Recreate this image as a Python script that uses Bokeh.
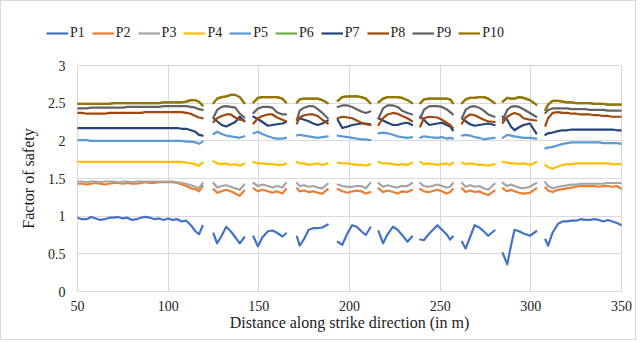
import math
from bokeh.plotting import figure
from bokeh.layouts import column
from bokeh.models import ColumnDataSource, Legend, LegendItem, FixedTicker
from bokeh.embed import file_html
from bokeh.resources import INLINE

# ---------------- data ----------------
x_segments = [
    [50, 52.5, 55, 57.5, 60, 62.5, 65, 67.5, 70, 72.5, 75, 77.5, 80, 82.5, 85, 87.5,
     90, 92.5, 95, 97.5, 100, 102.5, 105, 107.5, 110, 112.5, 115, 117, 119],
    [125, 127, 129.5, 132, 134.5, 137, 139.5, 142],
    [147, 149.5, 152, 155, 157.5, 160, 163, 165],
    [171, 172.5, 175, 177.5, 180, 182.5, 185, 188],
    [193.5, 196, 199, 201.5, 204, 206.5, 209, 211.5],
    [216, 218.5, 221, 224, 226.5, 229, 232, 234.5],
    [239, 241, 244, 248.5, 251, 253.5, 255.5, 257],
    [262, 264, 266.5, 269, 271.5, 274, 276.5, 280],
    [284.5, 287, 289, 291, 293.5, 296, 299.5, 303],
    [308, 309.5, 312, 315, 317.5, 320, 322.5, 325, 327.5, 330, 332.5, 335, 337.5,
     340, 342.5, 345, 347.5, 350],
]

P1 = [
    [0.98, 0.96, 0.96, 0.99, 0.97, 0.95, 0.96, 0.98, 0.98, 0.99, 0.97, 0.98, 0.95, 0.96, 0.98,
     0.99, 0.98, 0.96, 0.97, 0.95, 0.97, 0.95, 0.96, 0.93, 0.94, 0.88, 0.80, 0.76, 0.87],
    [0.77, 0.64, 0.74, 0.86, 0.80, 0.72, 0.64, 0.72],
    [0.73, 0.60, 0.72, 0.80, 0.81, 0.78, 0.73, 0.77],
    [0.73, 0.61, 0.70, 0.82, 0.84, 0.84, 0.85, 0.89],
    [0.66, 0.62, 0.78, 0.88, 0.86, 0.80, 0.75, 0.85],
    [0.80, 0.64, 0.76, 0.86, 0.82, 0.75, 0.66, 0.73],
    [0.69, 0.68, 0.77, 0.88, 0.82, 0.76, 0.69, 0.73],
    [0.66, 0.57, 0.72, 0.88, 0.85, 0.80, 0.74, 0.81],
    [0.51, 0.36, 0.60, 0.82, 0.80, 0.77, 0.74, 0.80],
    [0.69, 0.61, 0.78, 0.90, 0.93, 0.93, 0.94, 0.94, 0.96, 0.95, 0.95, 0.96, 0.95, 0.93,
     0.95, 0.93, 0.91, 0.88],
]
P2 = [
    [1.43, 1.43, 1.42, 1.43, 1.44, 1.43, 1.42, 1.43, 1.44, 1.44, 1.43, 1.44, 1.43, 1.43, 1.44,
     1.45, 1.44, 1.44, 1.45, 1.45, 1.45, 1.45, 1.44, 1.42, 1.40, 1.37, 1.36, 1.33, 1.40],
    [1.36, 1.31, 1.33, 1.35, 1.33, 1.30, 1.27, 1.34],
    [1.37, 1.33, 1.35, 1.33, 1.31, 1.33, 1.30, 1.36],
    [1.37, 1.33, 1.34, 1.32, 1.33, 1.31, 1.30, 1.36],
    [1.36, 1.33, 1.31, 1.33, 1.34, 1.33, 1.30, 1.32],
    [1.37, 1.32, 1.34, 1.32, 1.30, 1.33, 1.32, 1.35],
    [1.36, 1.33, 1.32, 1.35, 1.33, 1.30, 1.32, 1.36],
    [1.37, 1.32, 1.34, 1.32, 1.33, 1.30, 1.28, 1.34],
    [1.37, 1.33, 1.35, 1.33, 1.31, 1.30, 1.31, 1.37],
    [1.38, 1.34, 1.32, 1.35, 1.36, 1.37, 1.38, 1.39, 1.40, 1.40, 1.40, 1.40, 1.39, 1.40,
     1.40, 1.39, 1.40, 1.36],
]
P3 = [
    [1.46, 1.46, 1.45, 1.46, 1.46, 1.45, 1.46, 1.46, 1.46, 1.45, 1.46, 1.46, 1.45, 1.46, 1.46,
     1.46, 1.46, 1.46, 1.46, 1.46, 1.46, 1.46, 1.45, 1.44, 1.43, 1.41, 1.39, 1.37, 1.44],
    [1.44, 1.38, 1.40, 1.41, 1.39, 1.37, 1.35, 1.42],
    [1.44, 1.40, 1.42, 1.40, 1.38, 1.40, 1.38, 1.44],
    [1.44, 1.40, 1.41, 1.39, 1.40, 1.38, 1.37, 1.43],
    [1.42, 1.40, 1.39, 1.39, 1.40, 1.40, 1.37, 1.44],
    [1.44, 1.39, 1.41, 1.39, 1.38, 1.40, 1.40, 1.44],
    [1.44, 1.40, 1.39, 1.42, 1.40, 1.38, 1.39, 1.44],
    [1.44, 1.39, 1.41, 1.39, 1.40, 1.37, 1.35, 1.43],
    [1.44, 1.40, 1.42, 1.40, 1.38, 1.37, 1.39, 1.44],
    [1.45, 1.40, 1.37, 1.39, 1.40, 1.41, 1.42, 1.42, 1.43, 1.43, 1.43, 1.43, 1.43, 1.43,
     1.44, 1.44, 1.44, 1.44],
]
P4 = [
    [1.72, 1.72, 1.72, 1.72, 1.72, 1.72, 1.72, 1.72, 1.72, 1.72, 1.72, 1.72, 1.72, 1.72, 1.72,
     1.72, 1.72, 1.72, 1.72, 1.72, 1.72, 1.72, 1.72, 1.72, 1.71, 1.70, 1.69, 1.67, 1.71],
    [1.73, 1.70, 1.69, 1.70, 1.68, 1.69, 1.67, 1.70],
    [1.72, 1.70, 1.70, 1.69, 1.69, 1.68, 1.68, 1.70],
    [1.72, 1.70, 1.70, 1.68, 1.69, 1.70, 1.68, 1.70],
    [1.71, 1.70, 1.70, 1.69, 1.68, 1.68, 1.67, 1.69],
    [1.72, 1.70, 1.70, 1.69, 1.68, 1.69, 1.68, 1.71],
    [1.72, 1.69, 1.70, 1.68, 1.69, 1.70, 1.68, 1.71],
    [1.71, 1.69, 1.70, 1.69, 1.68, 1.68, 1.67, 1.69],
    [1.72, 1.71, 1.70, 1.70, 1.69, 1.70, 1.68, 1.72],
    [1.68, 1.65, 1.63, 1.66, 1.68, 1.69, 1.69, 1.70, 1.70, 1.70, 1.70, 1.70, 1.70, 1.70,
     1.70, 1.69, 1.69, 1.69],
]
P5 = [
    [2.01, 2.01, 2.01, 2.00, 2.00, 2.00, 2.00, 2.00, 2.00, 2.00, 2.00, 2.00, 2.00, 2.00, 2.00,
     2.00, 2.00, 2.00, 2.00, 2.00, 2.00, 2.00, 2.00, 2.00, 1.99, 1.99, 1.98, 1.96, 1.99],
    [2.09, 2.12, 2.09, 2.07, 2.06, 2.05, 2.04, 2.06],
    [2.10, 2.12, 2.09, 2.06, 2.04, 2.03, 2.03, 2.04],
    [2.07, 2.08, 2.07, 2.06, 2.05, 2.04, 2.05, 2.06],
    [2.07, 2.06, 2.05, 2.04, 2.03, 2.02, 2.02, 2.01],
    [2.10, 2.11, 2.10, 2.08, 2.06, 2.05, 2.04, 2.05],
    [2.04, 2.06, 2.05, 2.04, 2.05, 2.03, 2.04, 2.03],
    [2.07, 2.08, 2.07, 2.05, 2.04, 2.02, 2.03, 2.04],
    [2.04, 2.08, 2.07, 2.06, 2.05, 2.04, 2.04, 2.03],
    [1.90, 1.91, 1.92, 1.94, 1.96, 1.97, 1.98, 1.98, 1.98, 1.98, 1.98, 1.98, 1.98, 1.97,
     1.97, 1.97, 1.97, 1.96],
]
P7 = [
    [2.17, 2.17, 2.17, 2.17, 2.17, 2.17, 2.17, 2.17, 2.17, 2.17, 2.17, 2.17, 2.17, 2.17, 2.17,
     2.17, 2.17, 2.17, 2.17, 2.17, 2.17, 2.17, 2.17, 2.16, 2.16, 2.14, 2.12, 2.08, 2.07],
    [2.30, 2.26, 2.21, 2.19, 2.22, 2.25, 2.32, 2.26],
    [2.32, 2.29, 2.25, 2.20, 2.21, 2.22, 2.23, 2.25],
    [2.28, 2.30, 2.28, 2.26, 2.23, 2.21, 2.23, 2.27],
    [2.28, 2.17, 2.19, 2.21, 2.22, 2.23, 2.23, 2.22],
    [2.30, 2.27, 2.24, 2.21, 2.21, 2.23, 2.24, 2.21],
    [2.32, 2.28, 2.21, 2.23, 2.24, 2.21, 2.19, 2.14],
    [2.30, 2.26, 2.22, 2.20, 2.21, 2.22, 2.23, 2.21],
    [2.32, 2.28, 2.19, 2.14, 2.18, 2.21, 2.23, 2.10],
    [2.08, 2.10, 2.11, 2.13, 2.14, 2.14, 2.15, 2.15, 2.15, 2.15, 2.15, 2.15, 2.15, 2.15,
     2.15, 2.15, 2.14, 2.14],
]
P8 = [
    [2.37, 2.37, 2.36, 2.36, 2.36, 2.36, 2.36, 2.37, 2.37, 2.37, 2.37, 2.37, 2.37, 2.37, 2.37,
     2.38, 2.38, 2.38, 2.38, 2.38, 2.38, 2.38, 2.38, 2.38, 2.37, 2.36, 2.33, 2.31, 2.30],
    [2.25, 2.30, 2.33, 2.35, 2.35, 2.31, 2.28, 2.27],
    [2.23, 2.30, 2.33, 2.35, 2.35, 2.31, 2.28, 2.26],
    [2.23, 2.31, 2.34, 2.35, 2.35, 2.33, 2.28, 2.23],
    [2.30, 2.32, 2.31, 2.30, 2.27, 2.24, 2.22, 2.21],
    [2.21, 2.30, 2.35, 2.37, 2.36, 2.33, 2.30, 2.26],
    [2.19, 2.30, 2.32, 2.31, 2.28, 2.24, 2.21, 2.17],
    [2.23, 2.31, 2.35, 2.34, 2.31, 2.28, 2.26, 2.25],
    [2.24, 2.32, 2.35, 2.37, 2.35, 2.30, 2.28, 2.27],
    [2.20, 2.30, 2.37, 2.38, 2.37, 2.37, 2.36, 2.36, 2.35, 2.35, 2.35, 2.34, 2.34, 2.33,
     2.33, 2.32, 2.32, 2.32],
]
P9 = [
    [2.43, 2.43, 2.43, 2.44, 2.44, 2.44, 2.44, 2.44, 2.44, 2.44, 2.44, 2.45, 2.45, 2.45, 2.45,
     2.45, 2.45, 2.45, 2.45, 2.46, 2.46, 2.46, 2.46, 2.46, 2.46, 2.45, 2.44, 2.42, 2.41],
    [2.31, 2.41, 2.45, 2.46, 2.45, 2.44, 2.36, 2.31],
    [2.37, 2.43, 2.45, 2.45, 2.44, 2.38, 2.35, 2.35],
    [2.28, 2.40, 2.44, 2.46, 2.46, 2.42, 2.37, 2.30],
    [2.45, 2.47, 2.47, 2.45, 2.42, 2.39, 2.37, 2.39],
    [2.30, 2.43, 2.47, 2.47, 2.45, 2.40, 2.37, 2.35],
    [2.30, 2.41, 2.46, 2.46, 2.45, 2.42, 2.38, 2.35],
    [2.30, 2.41, 2.45, 2.46, 2.44, 2.40, 2.35, 2.32],
    [2.28, 2.41, 2.45, 2.46, 2.45, 2.42, 2.37, 2.32],
    [2.37, 2.41, 2.43, 2.43, 2.43, 2.43, 2.42, 2.42, 2.42, 2.42, 2.41, 2.41, 2.41, 2.41,
     2.40, 2.40, 2.40, 2.40],
]
P10 = [
    [2.49, 2.49, 2.49, 2.49, 2.49, 2.49, 2.49, 2.49, 2.50, 2.50, 2.50, 2.50, 2.50, 2.50, 2.50,
     2.50, 2.50, 2.50, 2.50, 2.51, 2.51, 2.51, 2.51, 2.51, 2.52, 2.54, 2.54, 2.52, 2.47],
    [2.50, 2.56, 2.58, 2.59, 2.61, 2.61, 2.58, 2.50],
    [2.51, 2.57, 2.58, 2.58, 2.58, 2.58, 2.56, 2.51],
    [2.51, 2.55, 2.56, 2.56, 2.56, 2.56, 2.54, 2.50],
    [2.53, 2.58, 2.59, 2.59, 2.59, 2.58, 2.56, 2.50],
    [2.51, 2.56, 2.58, 2.58, 2.58, 2.57, 2.54, 2.50],
    [2.50, 2.55, 2.56, 2.56, 2.56, 2.56, 2.55, 2.50],
    [2.50, 2.55, 2.57, 2.57, 2.58, 2.58, 2.56, 2.50],
    [2.52, 2.57, 2.56, 2.56, 2.58, 2.57, 2.54, 2.48],
    [2.41, 2.48, 2.53, 2.53, 2.52, 2.51, 2.51, 2.50, 2.50, 2.50, 2.50, 2.49, 2.49, 2.49,
     2.48, 2.48, 2.48, 2.48],
]
# P6 lies underneath P10 in the original (not visible)
P6 = [list(s) for s in P10]

series_names = ["P1", "P2", "P3", "P4", "P5", "P6", "P7", "P8", "P9", "P10"]
series_values = [P1, P2, P3, P4, P5, P6, P7, P8, P9, P10]
series_colors = ["#4472C4", "#ED7D31", "#A5A5A5", "#FFC000", "#5B9BD5",
                 "#70AD47", "#264478", "#9E480E", "#636363", "#997300"]

x_ticks = [50, 100, 150, 200, 250, 300, 350]
y_ticks = [0, 0.5, 1, 1.5, 2, 2.5, 3]
y_tick_labels = ["0", "0.5", "1", "1.5", "2", "2.5", "3"]

# ---------------- figures ----------------
FONT = "Liberation Serif"
TXT = "#222222"
GRID = "#d9d9d9"
LW = 2.2


def flatten(segs_x, segs_y):
    xs, ys = [], []
    for i, (sx, sy) in enumerate(zip(segs_x, segs_y)):
        if i > 0:
            xs.append(math.nan)
            ys.append(math.nan)
        xs.extend(sx)
        ys.extend(sy)
    return xs, ys


# legend strip: a separate figure so that the legend can sit left of the plot frame
leg_fig = figure(width=634, height=48, x_range=(50, 350), y_range=(10, 11),
                 x_axis_type=None, y_axis_type=None,
                 output_backend="svg", toolbar_location=None,
                 min_border_left=0, min_border_right=0, min_border_top=0,
                 min_border_bottom=0)
leg_fig.grid.visible = False
leg_fig.outline_line_color = None
leg_fig.background_fill_color = "white"
leg_fig.border_fill_color = "white"

items = []
for name, vals, col in zip(series_names, series_values, series_colors):
    xs, ys = flatten(x_segments, vals)   # same series, lies outside this strip's y-range
    r = leg_fig.line(xs, ys, line_color=col, line_width=LW)
    items.append(LegendItem(label=name, renderers=[r]))

legend = Legend(items=items, orientation="horizontal", location=(45, 8),
                glyph_width=22, glyph_height=16, label_standoff=2, spacing=7,
                label_width=14, padding=0, margin=0, border_line_color=None,
                background_fill_alpha=0, label_text_font=FONT,
                label_text_font_size="14px", label_text_color=TXT)
leg_fig.add_layout(legend, "center")

p = figure(width=634, height=290, x_range=(50, 350), y_range=(0, 3),
           output_backend="svg", toolbar_location=None,
           min_border_left=76, min_border_right=14, min_border_top=16,
           min_border_bottom=48)
p.background_fill_color = "white"
p.border_fill_color = "white"
p.outline_line_color = GRID

for name, vals, col in zip(series_names, series_values, series_colors):
    xs, ys = flatten(x_segments, vals)
    src = ColumnDataSource(dict(x=xs, y=ys))
    p.line("x", "y", source=src, line_color=col, line_width=LW,
           line_join="round", line_cap="round")

for ax in (p.xaxis[0], p.yaxis[0]):
    ax.axis_line_color = None
    ax.major_tick_line_color = None
    ax.minor_tick_line_color = None
    ax.major_label_text_font = FONT
    ax.major_label_text_font_size = "14px"
    ax.major_label_text_color = TXT
    ax.axis_label_text_font = FONT
    ax.axis_label_text_font_size = "16px"
    ax.axis_label_text_font_style = "normal"
    ax.axis_label_text_color = TXT

p.xaxis.ticker = FixedTicker(ticks=x_ticks)
p.yaxis.ticker = FixedTicker(ticks=y_ticks)
p.yaxis.major_label_overrides = {t: l for t, l in zip(y_ticks, y_tick_labels)}
p.xaxis.axis_label = "Distance along strike direction (in m)"
p.yaxis.axis_label = "Factor of safety"
p.xaxis.major_label_standoff = 3
p.yaxis.major_label_standoff = 6
p.xaxis.axis_label_standoff = 0
p.yaxis.axis_label_standoff = 8

p.xgrid.ticker = FixedTicker(ticks=x_ticks)
p.ygrid.ticker = FixedTicker(ticks=y_ticks)
p.xgrid.grid_line_color = GRID
p.ygrid.grid_line_color = GRID
p.xgrid.grid_line_width = 1
p.ygrid.grid_line_width = 1

# nest the legend strip in its own column so its frame is not aligned to the plot's
layout = column(column(leg_fig), p, spacing=0,
                styles={"border": "1px solid #d9d9d9"})

open("out.html", "w").write(file_html(layout, INLINE))
